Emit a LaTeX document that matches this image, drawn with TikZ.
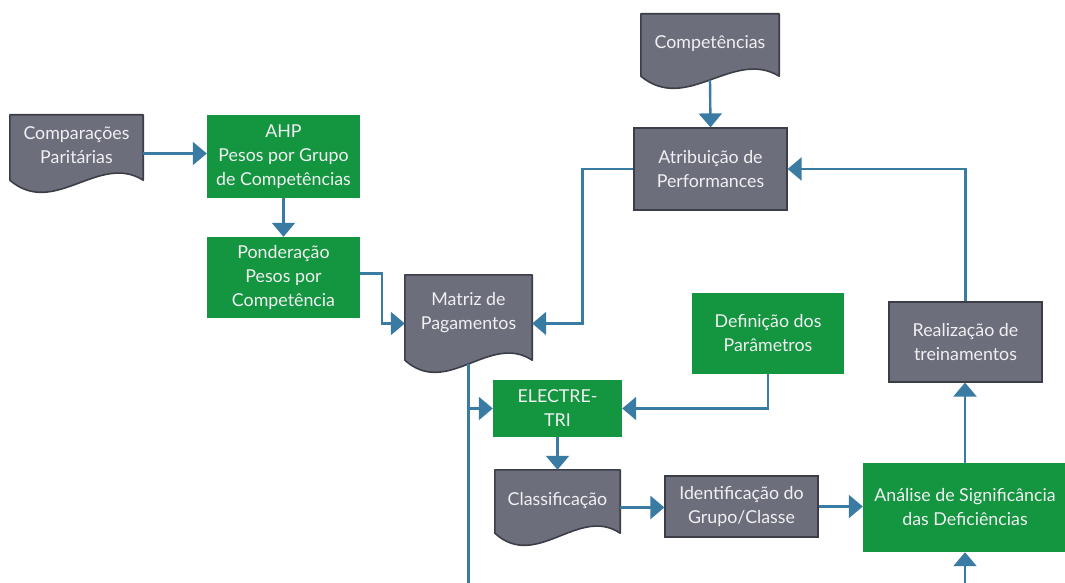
\documentclass[tikz,border=0pt]{standalone}
\usepackage{fontspec}
\setmainfont{Lato}
\usetikzlibrary{arrows.meta,calc,backgrounds}

\definecolor{boxgray}{HTML}{6C6E7B}
\definecolor{boxedge}{HTML}{3C3E47}
\definecolor{boxgreen}{HTML}{13963F}
\definecolor{flowblue}{HTML}{3A7BA4}
\definecolor{boxtext}{HTML}{F0F0F2}

\tikzset{
  base/.style={rectangle, inner sep=2pt, align=center, text=boxtext,
    font=\fontsize{17.8}{24}\selectfont},
  greenbox/.style={base, fill=boxgreen},
  graybox/.style={base, fill=boxgray, draw=boxedge, line width=1.2pt},
  docarea/.style={rectangle, inner sep=0pt},
  doctext/.style={base, inner sep=0pt},
  docfill/.style={fill=boxgray, draw=boxedge, line width=1.6pt, line join=round},
  flow/.style={draw=flowblue, line width=2.4pt,
    -{Triangle[width=23pt,length=14pt]}},
  flowline/.style={draw=flowblue, line width=2.4pt},
}

% document symbol with a wavy lower edge, filling the area of a named node
\newcommand\docsymbol[1]{%
  \path[docfill] let \p1=(#1.north west), \p2=(#1.south east) in
    (\x1,\y1) -- (\x2,\y1) -- (\x2,{\y2+12pt})
    .. controls ({\x1+0.667*(\x2-\x1)},{\y2+40pt}) and ({\x1+0.333*(\x2-\x1)},{\y2-26pt})
    .. (\x1,{\y2+12pt}) -- cycle;}

\begin{document}
\begin{tikzpicture}[x=1pt,y=-1pt]
  \useasboundingbox (0,0) rectangle (1065,583);
  \coordinate (bl) at (0,583);

  % document areas (the wave is drawn behind their texts)
  \node[docarea, minimum width=133pt, minimum height=77pt] (cmp) at (76.5,153.5) {};
  \node[docarea, minimum width=138pt, minimum height=74pt] (comp) at (710,51) {};
  \node[docarea, minimum width=127pt, minimum height=97pt] (mat) at (468.5,323.5) {};
  \node[docarea, minimum width=125pt, minimum height=75pt] (cls) at (557.5,507.5) {};

  \begin{scope}[on background layer]
    \docsymbol{cmp}
    \docsymbol{comp}
    \docsymbol{mat}
    \docsymbol{cls}
  \end{scope}

  \node[doctext] (cmp-t) at ([yshift=8pt]cmp.center) {Comparações\\Paritárias};
  \node[doctext] (comp-t) at ([yshift=7pt]comp.center) {Competências};
  \node[doctext] (mat-t) at ([yshift=11pt]mat.center) {Matriz de\\Pagamentos};
  \node[doctext] (cls-t) at ([yshift=7pt]cls.center) {Classificação};

  % process boxes
  \node[greenbox, minimum width=153pt, minimum height=83pt] (ahp) at (283.5,156.5)
    {AHP\\Pesos por Grupo\\de Competências};
  \node[greenbox, minimum width=153pt, minimum height=81pt] (pond) at (283.5,277.5)
    {Ponderação\\Pesos por\\Competência};
  \node[graybox, minimum width=153pt, minimum height=82pt] (atr) at (710.5,169)
    {Atribuição de\\Performances};
  \node[greenbox, minimum width=152pt, minimum height=81pt] (def) at (768,333.5)
    {Definição dos\\Parâmetros};
  \node[greenbox, minimum width=129pt, minimum height=57pt] (ele) at (557.5,408.5)
    {ELECTRE-\\TRI};
  \node[graybox, minimum width=153pt, minimum height=61pt] (idf) at (741.5,506.5)
    {Identificação do\\Grupo/Classe};
  \node[greenbox, minimum width=204pt, minimum height=89pt] (ana) at (965,507.5)
    {Análise de Significância\\das Deficiências};
  \node[graybox, minimum width=153pt, minimum height=80pt] (rea) at (965.5,342)
    {Realização de\\treinamentos};

  % connectors
  \draw[flow] (cmp.east) -- (cmp.east -| ahp.west);
  \draw[flow] (ahp.south) -- (pond.north);
  \draw[flow] ([yshift=4pt]pond.east) -- ++(22,0) |- (mat.west);
  \draw[flow] (atr.west) -- ++(-51,0) |- (mat.east);
  \draw[flow] ([yshift=8pt]comp.south) -- (atr.north);
  \draw[flowline] ([yshift=8pt]mat.south) -- (mat.south |- bl);
  \draw[flow] (mat.south |- ele.west) -- (ele.west);
  \draw[flow] (def.south) |- (ele.east);
  \draw[flow] (ele.south) -- (cls.north);
  \draw[flow] (cls.east) -- (cls.east -| idf.west);
  \draw[flow] (idf.east) -- (idf.east -| ana.west);
  \draw[flow] (ana.south |- bl) -- (ana.south);
  \draw[flow] (ana.north) -- (ana.north |- rea.south);
  \draw[flow] (rea.north) |- (atr.east);
\end{tikzpicture}
\end{document}
